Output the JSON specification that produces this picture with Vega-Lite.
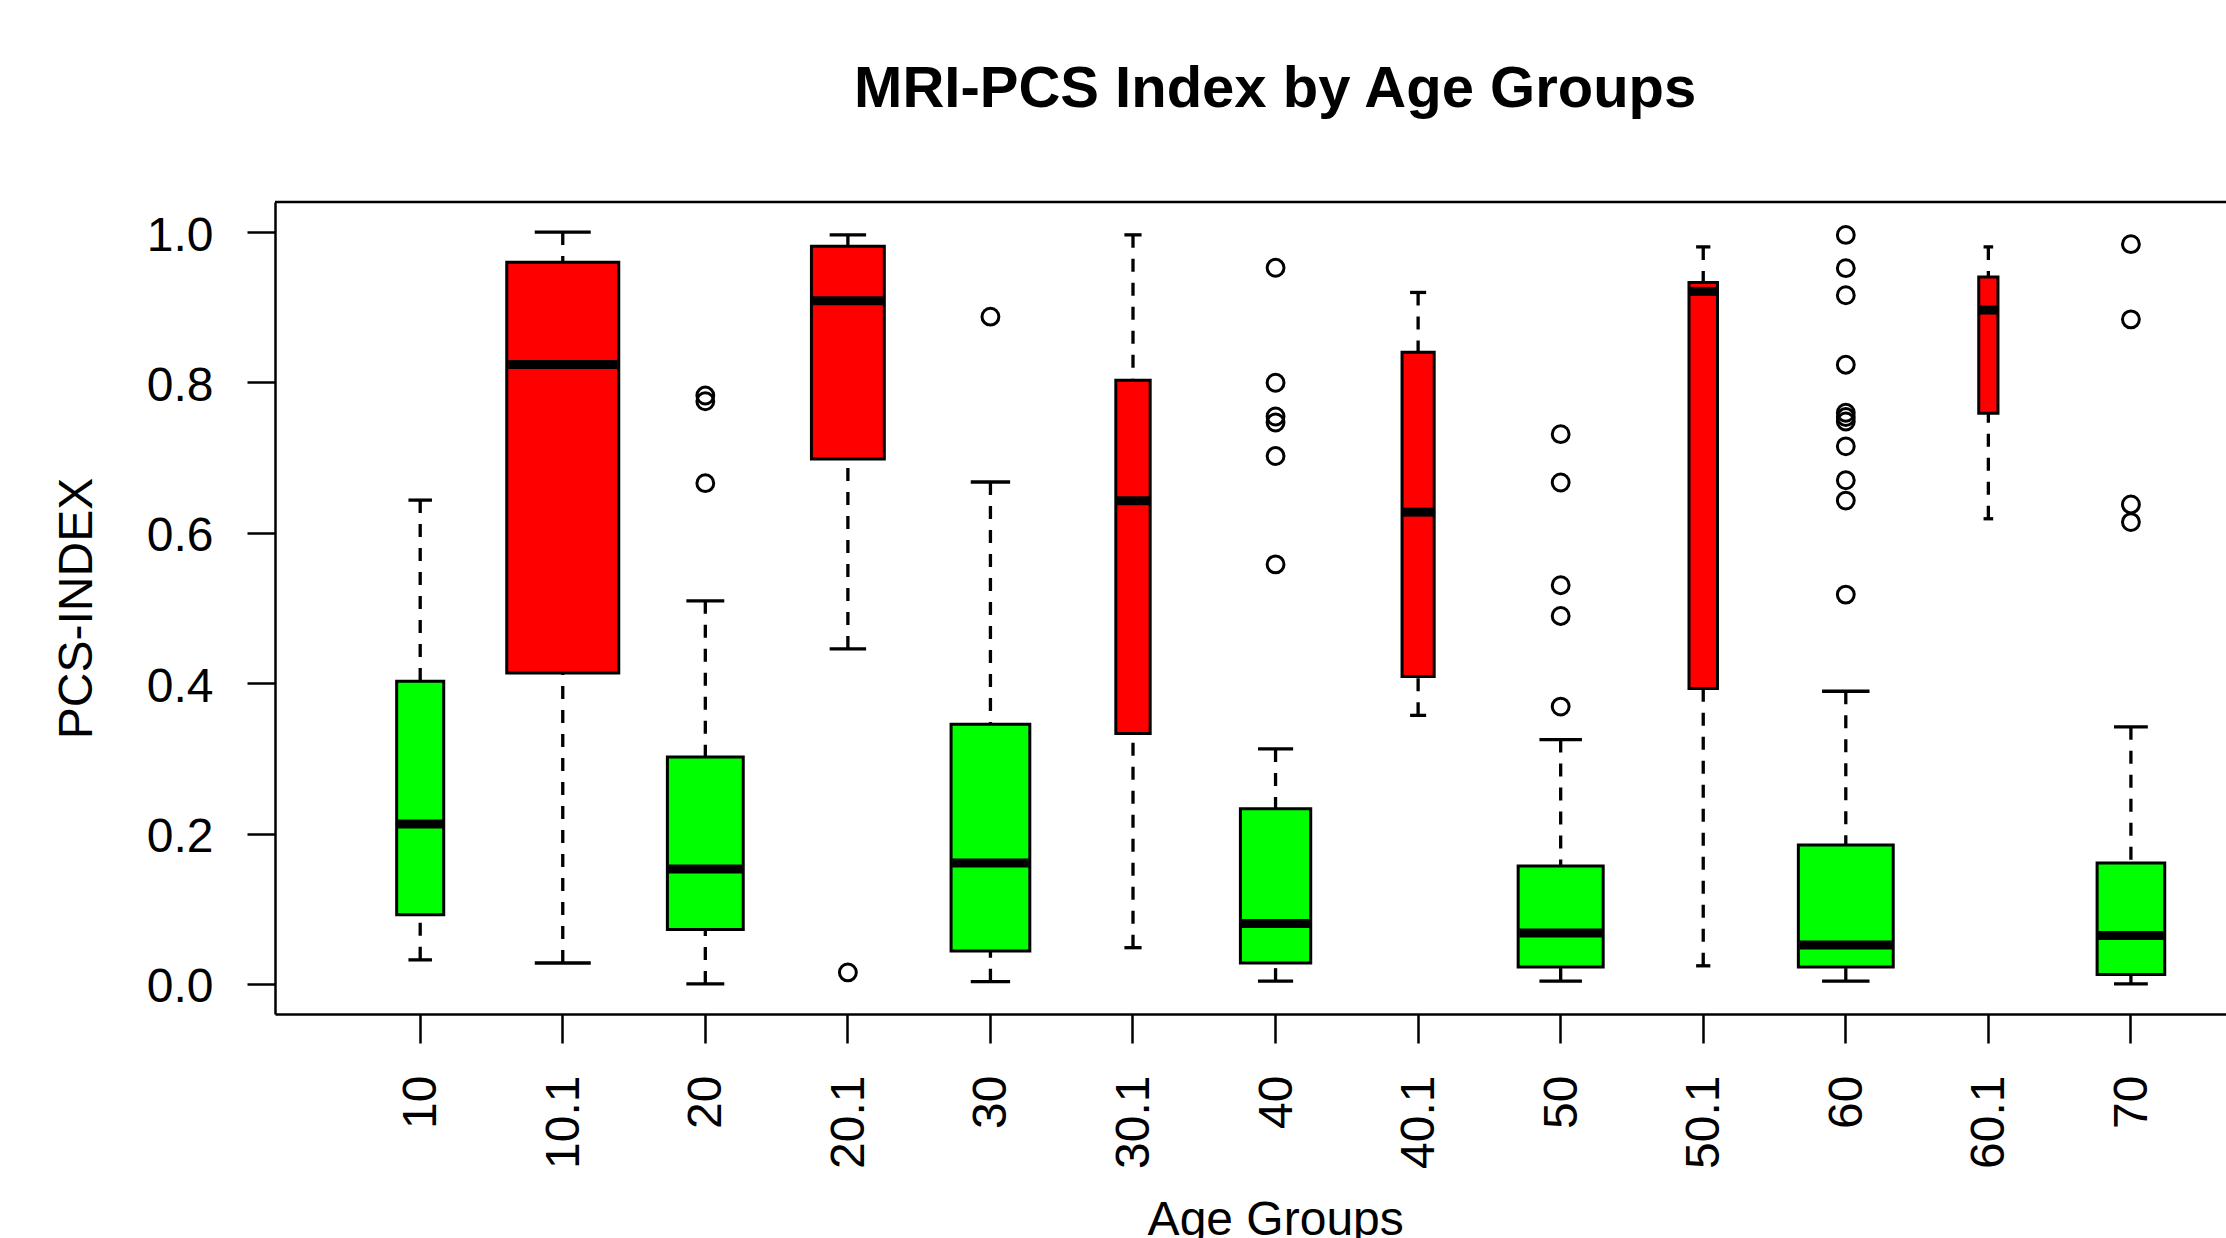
{
  "$schema": "https://vega.github.io/schema/vega-lite/v6.json",
  "width": 1951,
  "height": 812,
  "autosize": {"type": "none"},
  "padding": {"left": 275, "top": 202, "right": 0, "bottom": 224},
  "background": "white",
  "title": {
    "text": "MRI-PCS Index by Age Groups",
    "font": "Liberation Sans",
    "fontSize": 58,
    "fontWeight": "bold",
    "color": "#000000",
    "anchor": "middle",
    "frame": "group",
    "dx": 24.7,
    "baseline": "alphabetic",
    "offset": 36
  },
  "datasets": {
    "boxes": [
      {"group": "10", "cohort": "A", "n": 30, "lo": 0.032, "q1": 0.092, "med": 0.2126, "q3": 0.4025, "hi": 0.6435},
      {"group": "10.1", "cohort": "B", "n": 170, "lo": 0.0278, "q1": 0.4134, "med": 0.824, "q3": 0.96, "hi": 1.0},
      {"group": "20", "cohort": "A", "n": 78, "lo": 0.0, "q1": 0.0723, "med": 0.1527, "q3": 0.3017, "hi": 0.5095},
      {"group": "20.1", "cohort": "B", "n": 72, "lo": 0.4456, "q1": 0.6983, "med": 0.9087, "q3": 0.981, "hi": 0.9963},
      {"group": "30", "cohort": "A", "n": 84, "lo": 0.003, "q1": 0.0438, "med": 0.1607, "q3": 0.3455, "hi": 0.6676},
      {"group": "30.1", "cohort": "B", "n": 16, "lo": 0.0482, "q1": 0.3331, "med": 0.6428, "q3": 0.8028, "hi": 0.9963},
      {"group": "40", "cohort": "A", "n": 67, "lo": 0.0037, "q1": 0.0278, "med": 0.0803, "q3": 0.233, "hi": 0.3126},
      {"group": "40.1", "cohort": "B", "n": 14, "lo": 0.3572, "q1": 0.409, "med": 0.6275, "q3": 0.84, "hi": 0.9197},
      {"group": "50", "cohort": "A", "n": 98, "lo": 0.0037, "q1": 0.0226, "med": 0.0679, "q3": 0.157, "hi": 0.325},
      {"group": "50.1", "cohort": "B", "n": 11, "lo": 0.0241, "q1": 0.393, "med": 0.9211, "q3": 0.9328, "hi": 0.9803},
      {"group": "60", "cohort": "A", "n": 122, "lo": 0.0037, "q1": 0.0226, "med": 0.0519, "q3": 0.1848, "hi": 0.3893},
      {"group": "60.1", "cohort": "B", "n": 5, "lo": 0.6187, "q1": 0.759, "med": 0.8963, "q3": 0.9401, "hi": 0.9803},
      {"group": "70", "cohort": "A", "n": 62, "lo": 0.0, "q1": 0.0124, "med": 0.0643, "q3": 0.1607, "hi": 0.3419}
    ],
    "outliers": [
      {"group": "20", "value": 0.7826},
      {"group": "20", "value": 0.775},
      {"group": "20", "value": 0.6660},
      {"group": "20.1", "value": 0.0153},
      {"group": "30", "value": 0.8875},
      {"group": "40", "value": 0.9525},
      {"group": "40", "value": 0.7996},
      {"group": "40", "value": 0.7547},
      {"group": "40", "value": 0.7467},
      {"group": "40", "value": 0.7021},
      {"group": "40", "value": 0.558},
      {"group": "50", "value": 0.7312},
      {"group": "50", "value": 0.6669},
      {"group": "50", "value": 0.5303},
      {"group": "50", "value": 0.4894},
      {"group": "50", "value": 0.3689},
      {"group": "60", "value": 0.9962},
      {"group": "60", "value": 0.9520},
      {"group": "60", "value": 0.9160},
      {"group": "60", "value": 0.8236},
      {"group": "60", "value": 0.7597},
      {"group": "60", "value": 0.7540},
      {"group": "60", "value": 0.7480},
      {"group": "60", "value": 0.7150},
      {"group": "60", "value": 0.6699},
      {"group": "60", "value": 0.6429},
      {"group": "60", "value": 0.5178},
      {"group": "70", "value": 0.9839},
      {"group": "70", "value": 0.8839},
      {"group": "70", "value": 0.6377},
      {"group": "70", "value": 0.6143}
    ]
  },
  "encoding": {
    "x": {
      "field": "group",
      "type": "nominal",
      "sort": null,
      "scale": {
        "domain": ["10", "10.1", "20", "20.1", "30", "30.1", "40", "40.1", "50", "50.1", "60", "60.1", "70"],
        "paddingInner": 0,
        "paddingOuter": 0.34275,
        "align": 0.7564
      },
      "axis": {
        "title": "Age Groups",
        "titleX": 1000.2,
        "titlePadding": 28,
        "labelAngle": 270,
        "labelAlign": "right",
        "labelBaseline": "middle",
        "labelPadding": 32,
        "labelOffset": 2,
        "tickSize": 29,
        "domain": true
      }
    }
  },
  "layer": [
    {
      "data": {"name": "boxes"},
      "mark": {"type": "rule", "color": "#000000", "strokeWidth": 3.3, "strokeDash": [13, 11]},
      "encoding": {
        "y": {
          "field": "lo",
          "type": "quantitative",
          "scale": {"domain": [-0.04, 1.04], "nice": false, "zero": false},
          "axis": {
            "title": "PCS-INDEX",
            "values": [0, 0.2, 0.4, 0.6, 0.8, 1.0],
            "format": ".1f",
            "tickSize": 28,
            "labelPadding": 34,
            "labelOffset": 4,
            "titlePadding": 45,
            "domain": true
          }
        },
        "y2": {"field": "q1"}
      }
    },
    {
      "data": {"name": "boxes"},
      "mark": {"type": "rule", "color": "#000000", "strokeWidth": 3.3, "strokeDash": [13, 11]},
      "encoding": {
        "y": {"field": "hi", "type": "quantitative"},
        "y2": {"field": "q3"}
      }
    },
    {
      "data": {"name": "boxes"},
      "mark": {"type": "tick", "orient": "horizontal", "color": "#000000", "thickness": 3.3, "opacity": 1},
      "encoding": {
        "y": {"field": "lo", "type": "quantitative"},
        "size": {"field": "n", "type": "quantitative", "scale": {"type": "sqrt", "domain": [0, 170], "range": [0, 56], "zero": true}, "legend": null}
      }
    },
    {
      "data": {"name": "boxes"},
      "mark": {"type": "tick", "orient": "horizontal", "color": "#000000", "thickness": 3.3, "opacity": 1},
      "encoding": {
        "y": {"field": "hi", "type": "quantitative"},
        "size": {"field": "n", "type": "quantitative", "scale": {"type": "sqrt", "domain": [0, 170], "range": [0, 56], "zero": true}, "legend": null}
      }
    },
    {
      "data": {"name": "boxes"},
      "mark": {"type": "bar", "stroke": "#000000", "strokeWidth": 3, "opacity": 1},
      "encoding": {
        "y": {"field": "q1", "type": "quantitative"},
        "y2": {"field": "q3"},
        "fill": {"field": "cohort", "type": "nominal", "scale": {"domain": ["A", "B"], "range": ["#00FF00", "#FF0000"]}, "legend": null},
        "size": {"field": "n", "type": "quantitative", "scale": {"type": "sqrt", "domain": [0, 170], "range": [0, 112], "zero": true}, "legend": null}
      }
    },
    {
      "data": {"name": "boxes"},
      "mark": {"type": "tick", "orient": "horizontal", "color": "#000000", "thickness": 9, "opacity": 1},
      "encoding": {
        "y": {"field": "med", "type": "quantitative"},
        "size": {"field": "n", "type": "quantitative", "scale": {"type": "sqrt", "domain": [0, 170], "range": [0, 109], "zero": true}, "legend": null}
      }
    },
    {
      "data": {"name": "outliers"},
      "mark": {"type": "point", "shape": "circle", "filled": false, "stroke": "#000000", "strokeWidth": 3, "size": 284, "opacity": 1},
      "encoding": {
        "y": {"field": "value", "type": "quantitative"}
      }
    },
    {
      "data": {"values": [{}]},
      "mark": {"type": "rule", "color": "#000000", "strokeWidth": 2.5},
      "encoding": {
        "y": {"datum": 1.04, "type": "quantitative"},
        "x": {"value": 0},
        "x2": {"value": 1951}
      }
    }
  ],
  "resolve": {"scale": {"size": "independent"}},
  "config": {
    "font": "Liberation Sans",
    "view": {"stroke": null},
    "axis": {
      "labelFont": "Liberation Sans",
      "titleFont": "Liberation Sans",
      "labelColor": "#000000",
      "titleColor": "#000000",
      "tickColor": "#000000",
      "domainColor": "#000000",
      "labelFontSize": 48,
      "titleFontSize": 48,
      "titleFontWeight": "normal",
      "grid": false,
      "tickWidth": 2.5,
      "domainWidth": 2.5
    }
  }
}
